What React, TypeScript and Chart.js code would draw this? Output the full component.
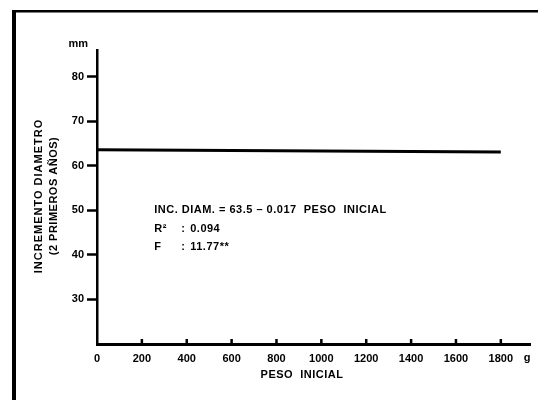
import React, { useEffect, useRef } from "react";
import Chart from "chart.js/auto";

// ---- data ----
const xTickValues = [0, 200, 400, 600, 800, 1000, 1200, 1400, 1600, 1800];
const yTickValues = [30, 40, 50, 60, 70, 80];
const lineX = [0, 1800];
const lineY = [63.6, 63.1];
const xUnit = "g";
const yUnit = "mm";
const xTitle = "PESO  INICIAL";
const yTitle = ["INCREMENTO DIAMETRO", "(2 PRIMEROS AÑOS)"];
const eqLines = [
  ["INC. DIAM. = 63.5 – 0.017  PESO  INICIAL", "", ""],
  ["R²", ":", "0.094"],
  ["F", ":", "11.77**"],
];

const FONT = "'Liberation Sans', Arial, Helvetica, sans-serif";

const decorPlugin = {
  id: "decor",
  beforeDraw(chart: any) {
    const ctx = chart.ctx;
    ctx.save();
    ctx.fillStyle = "#000";
    // outer frame (left and top)
    ctx.fillRect(12, 10, 4, 390);
    ctx.fillRect(12, 10, 526, 2.5);
    ctx.restore();
  },
  afterDraw(chart: any) {
    const ctx = chart.ctx;
    const xs = chart.scales.x;
    const ys = chart.scales.y;
    const area = chart.chartArea;
    ctx.save();
    ctx.fillStyle = "#000";
    // x tick marks pointing up into the plot
    xTickValues.forEach((v) => {
      if (v === 0) return;
      const px = xs.getPixelForValue(v);
      ctx.fillRect(px - 1.25, area.bottom - 5, 2.5, 5);
    });
    ctx.font = `bold 11px ${FONT}`;
    ctx.textBaseline = "middle";
    // units
    ctx.textAlign = "right";
    ctx.fillText(yUnit, area.left - 9, area.top - 6);
    ctx.textAlign = "center";
    ctx.fillText(xUnit, area.right - 3, area.bottom + 14);
    // x title
    ctx.letterSpacing = "0.5px";
    ctx.fillText(xTitle, 302, 375);
    // y title
    ctx.save();
    ctx.translate(39, 196);
    ctx.rotate(-Math.PI / 2);
    ctx.letterSpacing = "1px";
    ctx.fillText(yTitle[0], 0, 0);
    ctx.letterSpacing = "0.5px";
    ctx.fillText(yTitle[1], 0, 15);
    ctx.restore();
    // equation block anchored at data (255, 50)
    const ex = xs.getPixelForValue(255);
    const ey = ys.getPixelForValue(50);
    ctx.textAlign = "left";
    ctx.letterSpacing = "0.5px";
    eqLines.forEach((row, i) => {
      const y = ey + i * 18.5;
      ctx.fillText(row[0], ex, y);
      if (row[1]) ctx.fillText(row[1], ex + 27, y);
      if (row[2]) ctx.fillText(row[2], ex + 36, y);
    });
    ctx.restore();
  },
};

export default function App() {
  const ref = useRef<HTMLCanvasElement>(null);
  useEffect(() => {
    if (!ref.current) return;
    const chart = new Chart(ref.current, {
      type: "line",
      data: {
        datasets: [
          {
            data: lineX.map((x, i) => ({ x, y: lineY[i] })),
            borderColor: "#000",
            borderWidth: 3,
            pointRadius: 0,
            tension: 0,
          },
        ],
      },
      options: {
        responsive: false,
        animation: false,
        layout: { padding: { left: 0, top: 50, right: 8, bottom: 0 } },
        plugins: { legend: { display: false }, tooltip: { enabled: false } },
        scales: {
          x: {
            type: "linear",
            min: 0,
            max: 1930,
            afterBuildTicks: (s: any) => {
              s.ticks = xTickValues.map((v) => ({ value: v }));
            },
            afterFit: (s: any) => {
              s.height = 56;
            },
            ticks: {
              autoSkip: false,
              maxRotation: 0,
              color: "#000",
              padding: 8,
              font: { family: FONT, weight: "bold", size: 11 },
              callback: (v: any) => String(v),
            },
            grid: { display: true, drawOnChartArea: false, drawTicks: false },
            border: { display: true, color: "#000", width: 3 },
          },
          y: {
            type: "linear",
            min: 20,
            max: 86,
            afterBuildTicks: (s: any) => {
              s.ticks = yTickValues.map((v) => ({ value: v }));
            },
            afterFit: (s: any) => {
              s.width = 97;
            },
            ticks: {
              color: "#000",
              padding: 3,
              font: { family: FONT, weight: "bold", size: 11 },
              callback: (v: any) => String(v),
            },
            grid: {
              display: true,
              drawOnChartArea: false,
              drawTicks: true,
              tickLength: 10,
              tickWidth: 2.5,
              tickColor: "#000",
              color: "#000",
            },
            border: { display: true, color: "#000", width: 2.5 },
          },
        },
      },
      plugins: [decorPlugin],
    });
    return () => chart.destroy();
  }, []);
  return (
    <div style={{ position: "absolute", left: 0, top: 0, width: 538, height: 400, background: "#fff" }}>
      <canvas ref={ref} width={538} height={400} style={{ width: 538, height: 400 }} />
    </div>
  );
}
